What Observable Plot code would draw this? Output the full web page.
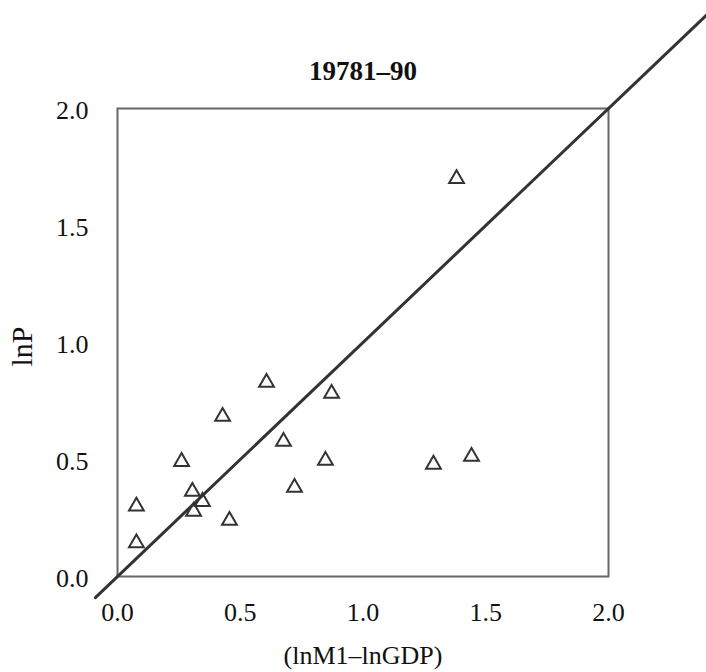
<!DOCTYPE html>
<html>
<head>
<meta charset="utf-8">
<script src="https://cdn.jsdelivr.net/npm/d3@7"></script>
<script src="https://cdn.jsdelivr.net/npm/@observablehq/plot@0.6"></script>
<style>
  html, body { margin: 0; padding: 0; background: #fff; }
  #chart { width: 706px; height: 672px; }
</style>
</head>
<body>
<div id="chart"></div>
<script>
// Data
const lnM1_lnGDP = [1.381, 0.607, 0.428, 0.872, 0.676, 0.261, 0.847, 0.721, 1.287, 1.442, 0.305, 0.346, 0.310, 0.456, 0.077, 0.077];
const lnP        = [1.700, 0.829, 0.684, 0.782, 0.577, 0.491, 0.496, 0.380, 0.479, 0.513, 0.363, 0.320, 0.278, 0.239, 0.300, 0.143];
const refLineX = [-0.09, 2.42];
const refLineY = [-0.09, 2.42];
const tickValues = [0, 0.5, 1.0, 1.5, 2.0];
const titleText = "19781–90";
const xLabel = "(lnM1–lnGDP)";
const yLabel = "lnP";

const points = lnM1_lnGDP.map((x, i) => ({x, y: lnP[i]}));
const refLine = refLineX.map((x, i) => ({x, y: refLineY[i]}));

const serif = "'Liberation Serif', 'Times New Roman', serif";

const chart = Plot.plot({
  width: 706,
  height: 672,
  marginLeft: 117,
  marginRight: 98,
  marginTop: 108,
  marginBottom: 96,
  style: {fontFamily: serif, fontSize: "26px", color: "#111", background: "#fff"},
  x: {domain: [0, 2]},
  y: {domain: [0, 2]},
  marks: [
    Plot.frame({stroke: "#666", strokeWidth: 2}),
    Plot.axisX({ticks: tickValues, tickSize: 0, tickPadding: 26, tickFormat: d3.format(".1f"),
      label: null, fontSize: 26}),
    Plot.axisY({ticks: tickValues, tickSize: 0, tickPadding: 29, tickFormat: d3.format(".1f"),
      label: null, fontSize: 26, dy: 2}),
    Plot.text([xLabel], {frameAnchor: "bottom", lineAnchor: "middle", textAnchor: "middle", dy: 79, text: d => d, fontSize: 26, fill: "#111"}),
    Plot.text([yLabel], {frameAnchor: "left", lineAnchor: "middle", textAnchor: "middle", dx: -95, dy: 4, rotate: -90, text: d => d, fontSize: 30, fill: "#111"}),
    Plot.line(refLine, {x: "x", y: "y", stroke: "#333", strokeWidth: 3}),
    Plot.dot(points, {x: "x", y: "y", symbol: "triangle", r: 5.5, stroke: "#333", strokeWidth: 2, fill: "none"}),
    Plot.text([titleText], {frameAnchor: "top", lineAnchor: "middle", textAnchor: "middle", dy: -37, text: d => d, fontWeight: "bold", fontSize: 27, fill: "#111"})
  ]
});
document.getElementById("chart").appendChild(chart);
</script>
</body>
</html>
